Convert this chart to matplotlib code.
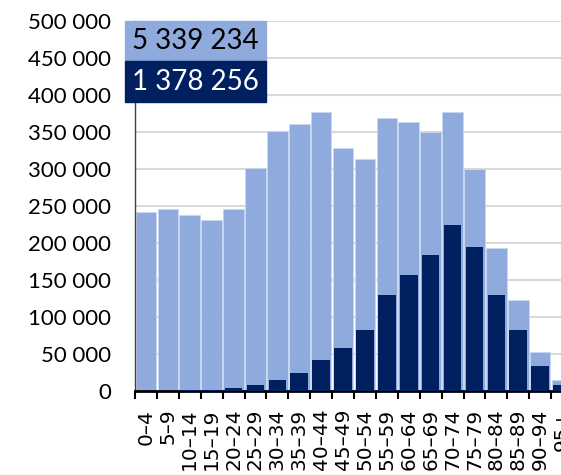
import matplotlib.pyplot as plt
from matplotlib.ticker import FuncFormatter

# Age groups and counts per group
age_groups = ['0–4', '5–9', '10–14', '15–19', '20–24', '25–29', '30–34',
              '35–39', '40–44', '45–49', '50–54', '55–59', '60–64', '65–69',
              '70–74', '75–79', '80–84', '85–89', '90–94', '95+']
population = [241900, 245100, 237400, 230700, 245100, 301000, 351000,
              360800, 376200, 327500, 313100, 368500, 363100, 349600,
              377000, 300000, 192800, 122600, 52700, 14500]
vaccinated = [100, 200, 300, 600, 3200, 7700, 14500,
              23900, 41500, 57700, 82000, 129300, 156300, 183400,
              223900, 194200, 129300, 82000, 33400, 7700]
total_population = '5 339 234'
total_vaccinated = '1 378 256'

light = '#8FAADC'
dark = '#002060'

fig = plt.figure(figsize=(5.61, 4.75), dpi=100)
ax = fig.add_axes([135 / 561, 1 - 390.7 / 475, 438 / 561, 370 / 475])

x = range(len(age_groups))
ax.bar(x, population, width=0.94, color=light, edgecolor='#c9d7ef',
       linewidth=0.6, zorder=2)
ax.bar(x, vaccinated, width=0.8, color=dark, zorder=3)

ax.set_xlim(-0.5, len(age_groups) - 0.5)
ax.set_ylim(0, 500000)
ax.set_yticks(range(0, 500001, 50000))
ax.yaxis.set_major_formatter(
    FuncFormatter(lambda v, p: f'{int(v):,}'.replace(',', ' ')))
ax.grid(axis='y', color='#d9d9d9', linewidth=1.5, zorder=0)
ax.set_axisbelow(True)

# labels at bar centres, tick marks between the bars
ax.set_xticks(list(x))
ax.set_xticklabels(age_groups, rotation=90, fontsize=14.5,
                   family='DejaVu Sans')
ax.set_xticks([i - 0.5 for i in range(len(age_groups) + 1)], minor=True)
ax.tick_params(axis='x', which='major', length=0, pad=13)
ax.tick_params(axis='x', which='minor', length=6, width=1.5, color='black')
ax.tick_params(axis='y', length=0, labelsize=16, pad=17)
for lab in ax.get_yticklabels():
    lab.set_family('Lato')

for side in ['top', 'right']:
    ax.spines[side].set_visible(False)
ax.spines['left'].set_color('#404040')
ax.spines['left'].set_linewidth(1)
ax.spines['bottom'].set_color('black')
ax.spines['bottom'].set_linewidth(2)

# totals in two coloured boxes
fig.patches.append(plt.Rectangle((125 / 561, 1 - 61 / 475), 140.5 / 561,
                                 40 / 475, transform=fig.transFigure,
                                 color=light, zorder=5))
fig.patches.append(plt.Rectangle((125 / 561, 1 - 101.5 / 475), 140.5 / 561,
                                 40.5 / 475, transform=fig.transFigure,
                                 color=dark, zorder=5))
fig.text(195 / 561, 1 - 41 / 475, total_population, ha='center',
         va='center', fontsize=20, family='Lato', color='black', zorder=6)
fig.text(195 / 561, 1 - 81.5 / 475, total_vaccinated, ha='center',
         va='center', fontsize=20, family='Lato', color='white', zorder=6)

fig.savefig('out.png', dpi=100)
